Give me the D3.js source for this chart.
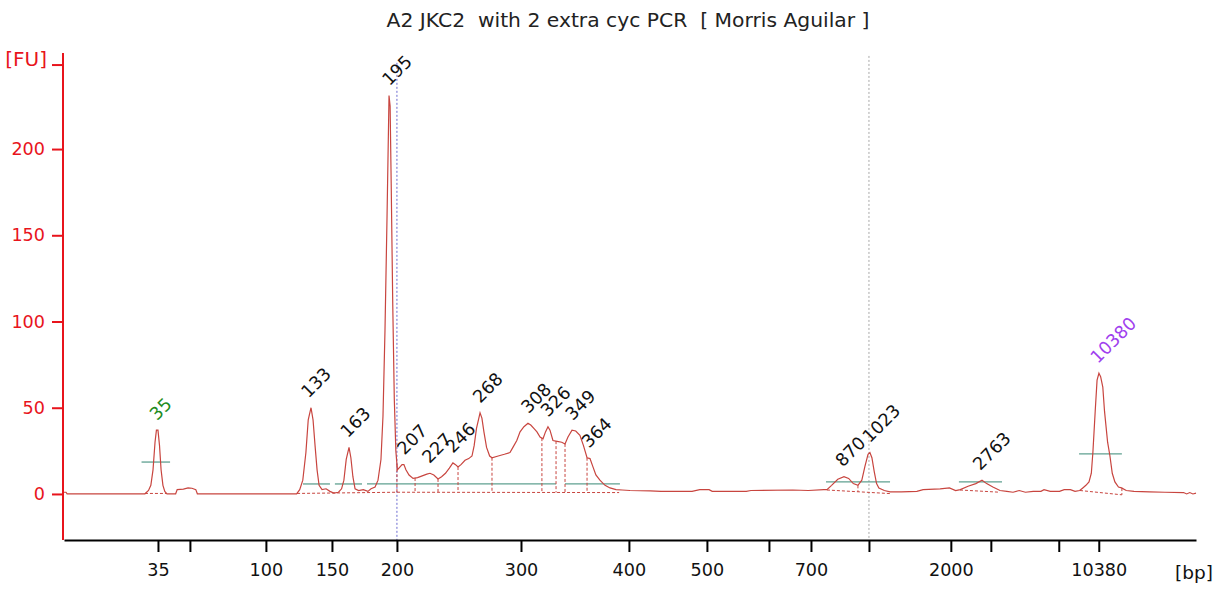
<!DOCTYPE html>
<html>
<head>
<meta charset="utf-8">
<script src="https://cdn.jsdelivr.net/npm/d3@7"></script>
<style>
  body { margin: 0; background: #fff; }
  svg { display: block; font-family: "DejaVu Sans", sans-serif; }
</style>
</head>
<body>
<svg width="1216" height="590"></svg>
<script>
// ladder: fragment size (bp) and migration time (s)
var ladderSizes = [35, 50, 100, 150, 200, 300, 400, 500, 600, 700, 1000, 2000, 3000, 7000, 10380];
var ladderTimes = [46.06, 48.12, 53.02, 57.28, 61.47, 69.47, 76.43, 81.46, 85.46, 88.17, 91.91, 97.19, 99.77, 104.15, 106.73];
var labeledSizes = [35, 100, 150, 200, 300, 400, 500, 700, 2000, 10380];
var yTicks = [0, 50, 100, 150, 200];
var yUnitTick = 249;
var title = "A2 JKC2  with 2 extra cyc PCR  [ Morris Aguilar ]";

// called peaks: size (bp) and height (FU)
var peakSizes = [35, 133, 163, 195, 207, 227, 246, 268, 308, 326, 349, 364, 870, 1023, 2763, 10380];
var peakHeights = [37, 50, 27, 231, 17, 12, 18, 47, 41, 39, 37, 21, 10, 24, 8, 70];
var lowerMarker = 35, upperMarker = 10380;

// region limits (bp)
var regionSizes = [200, 1000];

// electropherogram [time s, FU]
var trace = [
  [40.0, 1.0], [40.13, 1.0], [40.2, 0.1], [45.22, 0.1], [45.45, 2.0], [45.6, 5], [45.74, 14], [45.87, 30],
  [45.96, 37], [46.06, 37], [46.16, 28], [46.26, 14], [46.38, 5], [46.5, 1.5], [46.64, 0.1],
  [47.2, 0.1], [47.3, 2.5], [47.7, 2.8], [48.0, 3.5], [48.25, 3.3], [48.5, 2.5], [48.6, 0.1],
  [55.0, 0.1], [55.2, 2.5], [55.4, 8], [55.6, 24], [55.75, 43], [55.93, 50], [56.06, 43], [56.19, 28],
  [56.32, 14], [56.45, 5], [56.64, 2.5], [56.9, 3], [57.15, 1.5], [57.4, 0.5], [57.7, 1.0], [57.9, 3],
  [58.05, 8], [58.2, 20], [58.38, 27], [58.5, 21], [58.63, 10], [58.77, 3], [59.0, 2.0], [59.3, 2.5],
  [59.6, 1.5], [59.8, 3], [60.06, 4], [60.25, 8], [60.44, 20], [60.57, 45], [60.7, 95], [60.83, 160],
  [60.96, 231], [61.03, 225], [61.1, 180], [61.2, 110], [61.3, 55], [61.4, 25], [61.5, 14],
  [61.6, 15], [61.8, 17], [61.92, 17], [62.05, 14], [62.25, 11], [62.51, 9], [62.8, 9.5], [63.1, 10.5],
  [63.4, 11.5], [63.6, 12], [63.85, 11], [64.12, 8.7], [64.35, 10], [64.6, 12], [64.85, 15], [65.08, 18],
  [65.25, 17], [65.41, 15.6], [65.6, 17], [65.86, 19.5], [66.1, 20.5], [66.31, 22], [66.45, 28], [66.6, 38],
  [66.83, 47], [66.95, 44], [67.08, 36], [67.25, 27], [67.45, 22], [67.6, 21], [68.0, 22], [68.4, 23],
  [68.76, 24], [68.95, 27], [69.2, 31], [69.41, 36], [69.66, 39], [69.92, 41], [70.1, 40], [70.3, 38],
  [70.5, 36], [70.7, 33], [70.89, 32], [71.05, 36], [71.21, 39], [71.34, 37], [71.53, 31], [71.8, 30.5],
  [72.1, 30], [72.31, 29], [72.5, 33], [72.76, 37], [73.0, 36.5], [73.27, 34], [73.5, 28], [73.73, 21],
  [73.92, 20.5], [74.1, 16], [74.3, 11], [74.56, 8], [74.89, 5], [75.21, 3.5], [75.6, 2.5], [76.0, 2.3],
  [76.5, 2.0], [77.8, 1.8], [78.5, 1.5], [80.5, 1.5], [81.0, 2.5], [81.6, 2.5], [81.8, 1.5], [84.0, 1.5],
  [84.3, 2.0], [87.0, 2.3], [88.0, 2.0], [89.0, 2.5], [89.2, 2.5], [89.5, 5], [89.9, 8.5], [90.3, 10],
  [90.6, 9], [90.9, 6], [91.2, 5], [91.45, 8], [91.65, 16], [91.85, 23], [91.97, 24], [92.1, 21],
  [92.25, 13], [92.4, 6], [92.55, 3.5], [92.9, 2.0], [93.27, 1.2], [94.0, 1.2], [95.0, 1.5], [95.4, 2.5],
  [96.5, 3], [97.1, 3.5], [97.5, 2.0], [97.8, 2.5], [98.3, 4.5], [98.8, 6.0], [99.2, 8], [99.5, 6],
  [99.9, 4], [100.36, 2], [100.8, 1.5], [101.2, 1.0], [101.6, 2.0], [102.0, 1.0], [102.5, 1.5], [103.0, 1.5],
  [103.2, 2.5], [103.6, 1.5], [104.2, 1.5], [104.5, 2.5], [104.9, 2.5], [105.2, 1.5], [105.5, 2.0], [105.7, 3.5],
  [105.9, 5], [106.1, 7], [106.25, 12], [106.35, 24], [106.5, 48], [106.62, 66], [106.74, 70], [106.85, 68],
  [106.99, 62], [107.1, 48], [107.3, 30], [107.45, 22], [107.6, 12], [107.77, 7], [108.0, 4], [108.2, 3.5],
  [108.5, 2.0], [109.0, 1.5], [110.0, 1.2], [111.0, 1.0], [112.2, 0.8], [112.4, 0.0], [112.6, 0.8], [112.8, 0.0], [113.0, 0.5]
];

// peak baselines [time, FU] and drop lines (time)
var baselines = [
  [[45.22, 0.3], [46.64, 0.3]],
  [[55.03, 0.3], [61.47, 1.0], [75.8, 0.8]],
  [[89.2, 2.3], [93.3, 0.2]],
  [[97.78, 2.3], [100.36, 1.0]],
  [[105.52, 2.0], [108.22, -0.5]]
];
var dropTimes = [61.47, 62.64, 64.12, 65.41, 67.6, 70.82, 71.73, 72.31, 73.73, 91.2, 108.22];

// horizontal markers [start time, end time, FU]
var levelMarks = [
  [45.0, 46.84, 18.5],
  [55.41, 57.15, 5.8], [57.47, 59.22, 5.8], [59.54, 71.73, 5.8], [72.31, 75.85, 5.8],
  [89.14, 93.27, 7], [97.71, 100.49, 7], [105.46, 108.22, 23.2]
];

var svg = d3.select("svg");
var red = "#e8141c", traceColor = "#c8453f";
var labelFont = "'DejaVu Sans', sans-serif";
var numSize = "17.6px";

var x = d3.scaleLinear().domain([40, 113]).range([64, 1196]);
var y = d3.scaleLinear().domain([-26.7, 255.7]).range([540, 53]);
var sizeToTime = d3.scaleLinear().domain(ladderSizes).range(ladderTimes);

function interp(pts, t) {
  var i = d3.bisector(d => d[0]).left(pts, t);
  if (i <= 0) return pts[0][1];
  if (i >= pts.length) return pts[pts.length - 1][1];
  var a = pts[i - 1], b = pts[i];
  return a[1] + (b[1] - a[1]) * (t - a[0]) / (b[0] - a[0]);
}

// title
svg.append("text").attr("x", 628).attr("y", 27).attr("text-anchor", "middle")
  .style("font-family", labelFont)
  .style("font-size", "20.3px").style("fill", "#222").style("white-space", "pre")
  .text(title);

// region lines
svg.selectAll("line.region").data(regionSizes).enter().append("line")
  .attr("class", "region")
  .attr("x1", d => x(sizeToTime(d))).attr("x2", d => x(sizeToTime(d)))
  .attr("y1", (d, i) => i === 0 ? y(250) : y(254)).attr("y2", 540)
  .style("stroke", (d, i) => i === 0 ? "#6a6ad0" : "#a8a8a8")
  .style("stroke-width", 1).style("stroke-dasharray", "2,2");

// level markers
svg.selectAll("line.level").data(levelMarks).enter().append("line")
  .attr("x1", d => x(d[0])).attr("x2", d => x(d[1]))
  .attr("y1", d => y(d[2])).attr("y2", d => y(d[2]))
  .style("stroke", "#5fa090").style("stroke-width", 1.3);

// baselines
var line = d3.line().x(d => x(d[0])).y(d => y(d[1]));
svg.selectAll("path.base").data(baselines).enter().append("path")
  .attr("d", line).style("fill", "none").style("stroke", traceColor)
  .style("stroke-width", 1).style("stroke-dasharray", "3,2");

var allBase = baselines.flat().sort((a, b) => a[0] - b[0]);
svg.selectAll("line.drop").data(dropTimes).enter().append("line")
  .attr("x1", d => x(d)).attr("x2", d => x(d))
  .attr("y1", d => y(interp(trace, d))).attr("y2", d => y(interp(allBase, d)))
  .style("stroke", traceColor).style("stroke-width", 1).style("stroke-dasharray", "3,2");

// trace
svg.append("path").datum(trace).attr("d", line)
  .style("fill", "none").style("stroke", traceColor).style("stroke-width", 1.2);

// peak labels
svg.selectAll("text.peak").data(peakSizes).enter().append("text")
  .attr("transform", (d, i) => "translate(" + (x(sizeToTime(d)) - 1) + "," + (y(peakHeights[i]) - 9) + ") rotate(-45)")
  .style("font-family", labelFont).style("font-size", numSize)
  .style("fill", d => d === lowerMarker ? "#1e8c1e" : d === upperMarker ? "#a040ee" : "#111")
  .text(d => d);

// y axis
var yAxis = d3.axisLeft(y).tickValues(yTicks.concat([yUnitTick])).tickSize(11).tickPadding(7)
  .tickFormat(d => d === yUnitTick ? "" : d);
var yg = svg.append("g").attr("transform", "translate(63,0)").call(yAxis)
  .attr("font-family", null).attr("font-size", null);
yg.select(".domain").attr("d", "M0," + y.range()[1] + "V" + y.range()[0]);
yg.selectAll("path,line").style("stroke", red).style("stroke-width", 2);
yg.selectAll("text").style("fill", red).style("font-size", numSize).style("font-family", labelFont);
svg.append("text").attr("x", 47).attr("y", y(yUnitTick) + 1).attr("text-anchor", "end")
  .style("font-family", labelFont).style("fill", red).style("font-size", "20px").text("[FU]");

// x axis
var xAxis = d3.axisBottom(x).tickValues(ladderTimes).tickSize(12).tickSizeOuter(0).tickPadding(12)
  .tickFormat((d, i) => labeledSizes.indexOf(ladderSizes[i]) >= 0 ? ladderSizes[i] : "");
var xg = svg.append("g").attr("transform", "translate(0,540)").call(xAxis)
  .attr("font-family", null).attr("font-size", null);
xg.selectAll("path,line").style("stroke", "#000").style("stroke-width", 2);
xg.selectAll("text").style("fill", "#111").style("font-size", numSize).style("font-family", labelFont);
svg.append("text").attr("x", 1175).attr("y", 579).style("font-family", labelFont)
  .style("font-size", "18.5px").style("fill", "#111").text("[bp]");
</script>
</body>
</html>
